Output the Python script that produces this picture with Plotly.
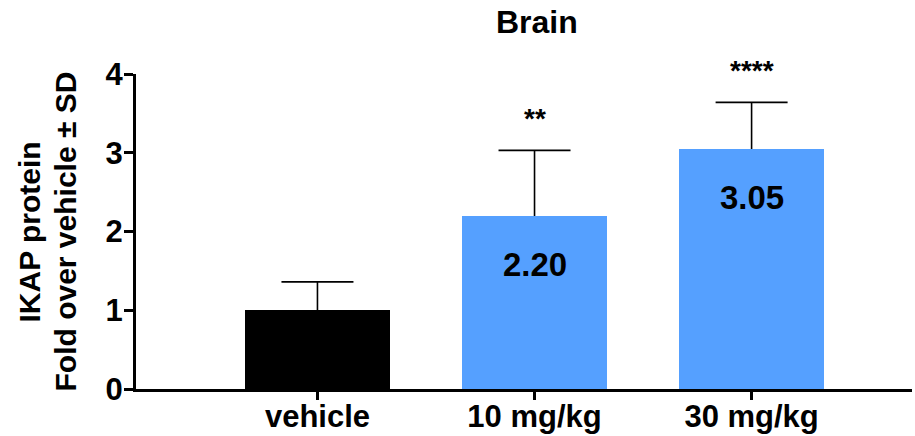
import plotly.graph_objects as go

# IKAP protein in brain, fold over vehicle (mean ± SD)
groups = ["vehicle", "10 mg/kg", "30 mg/kg"]
fold_mean = [1.00, 2.20, 3.05]
fold_sd = [0.36, 0.83, 0.59]
significance = ["", "**", "****"]
bar_colors = ["#000000", "#55A0FF", "#55A0FF"]
y_ticks = [0, 1, 2, 3, 4]
y_title_lines = ["IKAP protein", "Fold over vehicle ± SD"]

FONT = "Liberation Sans, Arial, sans-serif"
PLOT_LEFT, PLOT_WIDTH = 136, 776


def paper_x(px):
    return (px - PLOT_LEFT) / PLOT_WIDTH


fig = go.Figure()

# SD bars live on the base axes so the bars (on the overlaid axes) hide the lower half
fig.add_trace(go.Scatter(
    x=groups, y=fold_mean, mode="markers",
    marker=dict(size=0.1, color="rgba(0,0,0,0)"),
    error_y=dict(type="data", array=fold_sd, symmetric=True,
                 color="#000000", thickness=1.6, width=36),
    hoverinfo="skip", showlegend=False, yaxis="y", cliponaxis=False,
))

fig.add_trace(go.Bar(
    x=groups, y=fold_mean, marker=dict(color=bar_colors, line=dict(width=0)),
    width=0.668, yaxis="y2", showlegend=False,
))

annotations = []
for g, m, s, sig in zip(groups, fold_mean, fold_sd, significance):
    if g != "vehicle":
        annotations.append(dict(
            x=g, y=m, xref="x", yref="y", text=f"{m:.2f}", showarrow=False,
            yshift=-49, yanchor="middle",
            font=dict(family=FONT, size=33, color="#000000", weight="bold"),
        ))
    if sig:
        annotations.append(dict(
            x=g, y=m + s, xref="x", yref="y", text=sig, showarrow=False,
            yshift=32, yanchor="middle",
            font=dict(family=FONT, size=28, color="#000000", weight="bold"),
        ))

annotations.append(dict(
    x=paper_x(537), y=1.165, xref="paper", yref="paper", text="Brain",
    showarrow=False, xanchor="center", yanchor="middle",
    font=dict(family=FONT, size=32, color="#000000", weight="bold"),
))
for line, px in zip(y_title_lines, [29, 65]):
    annotations.append(dict(
        x=paper_x(px), y=0.5, xref="paper", yref="paper", text=line,
        showarrow=False, textangle=-90, xanchor="center", yanchor="middle",
        font=dict(family=FONT, size=30, color="#000000", weight="bold"),
    ))

yaxis_common = dict(range=[0, 4], fixedrange=True)

fig.update_layout(
    width=915, height=436,
    margin=dict(l=PLOT_LEFT, r=915 - PLOT_LEFT - PLOT_WIDTH, t=74, b=47,
                autoexpand=False),
    paper_bgcolor="#FFFFFF", plot_bgcolor="#FFFFFF",
    font=dict(family=FONT, color="#000000"),
    xaxis=dict(
        range=[-0.836, 2.739], showline=True, linecolor="#000000", linewidth=3,
        ticks="outside", ticklen=8, tickwidth=3, tickcolor="#000000",
        showgrid=False, zeroline=False, ticklabelstandoff=-10, automargin=False,
        tickfont=dict(family=FONT, size=31, color="#000000", weight="bold"),
    ),
    yaxis=dict(
        **yaxis_common, tickvals=y_ticks, ticktext=[str(v) for v in y_ticks],
        showline=True, linecolor="#000000", linewidth=3,
        ticks="outside", ticklen=9, tickwidth=3, tickcolor="#000000",
        showgrid=False, zeroline=False, ticklabelstandoff=-5, automargin=False,
        tickfont=dict(family=FONT, size=31, color="#000000", weight="bold"),
    ),
    yaxis2=dict(**yaxis_common, overlaying="y", visible=False, automargin=False),
    annotations=annotations,
    bargap=0,
)

fig.write_html("out.html")
